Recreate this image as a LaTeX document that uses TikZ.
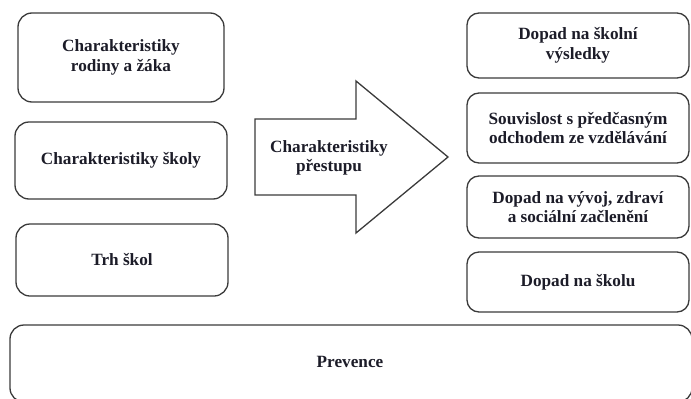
\documentclass[tikz,border=0pt]{standalone}
\usepackage{fontspec}
\setmainfont{Liberation Serif}
\definecolor{edge}{HTML}{3A3A3A}
\definecolor{ink}{HTML}{1C1C28}
\begin{document}
\begin{tikzpicture}[x=1pt,y=-1pt,
  box/.style={draw=edge, line width=1.3pt, rounded corners=14pt, align=center,
    text=ink, font=\fontsize{17.2}{19.5}\selectfont\bfseries, inner sep=0pt},
  lbl/.style={align=center, text=ink, font=\fontsize{17.2}{19.5}\selectfont\bfseries, inner sep=0pt}]
\useasboundingbox (0,0) rectangle (691,399);
\clip (0,0) rectangle (691,399);
% left column
\node[box, minimum width=206pt, minimum height=89pt] (rod) at (121,57.5) {Charakteristiky\\rodiny a žáka};
\node[box, minimum width=212pt, minimum height=77pt] (sko) at (121,160.5) {Charakteristiky školy};
\node[box, minimum width=212pt, minimum height=72pt] (trh) at (122,260) {Trh škol};
% arrow
\draw[draw=edge, line width=1.3pt, line join=miter]
  (255,119) -- (356,119) -- (356,81) -- (448,157) -- (356,233) -- (356,195) -- (255,195) -- cycle;
\node[lbl] (pre) at (329,158) {Charakteristiky\\přestupu};
% right column
\node[box, rounded corners=12pt, minimum width=222pt, minimum height=65pt] (vys) at (578,45.5) {Dopad na školní\\výsledky};
\node[box, rounded corners=12pt, minimum width=222pt, minimum height=70pt] (odc) at (578,128) {Souvislost s předčasným\\odchodem ze vzdělávání};
\node[box, rounded corners=12pt, minimum width=222pt, minimum height=62pt] (vyv) at (578,207) {Dopad na vývoj, zdraví\\a sociální začlenění};
\node[box, rounded corners=12pt, minimum width=222pt, minimum height=60pt] (dsk) at (578,282) {Dopad na školu};
% prevence
\node[box, rounded corners=14pt, minimum width=682pt, minimum height=77pt] (prev) at (351,363.5) {};
\node[lbl] (prevt) at (350,362) {Prevence};
\end{tikzpicture}
\end{document}
